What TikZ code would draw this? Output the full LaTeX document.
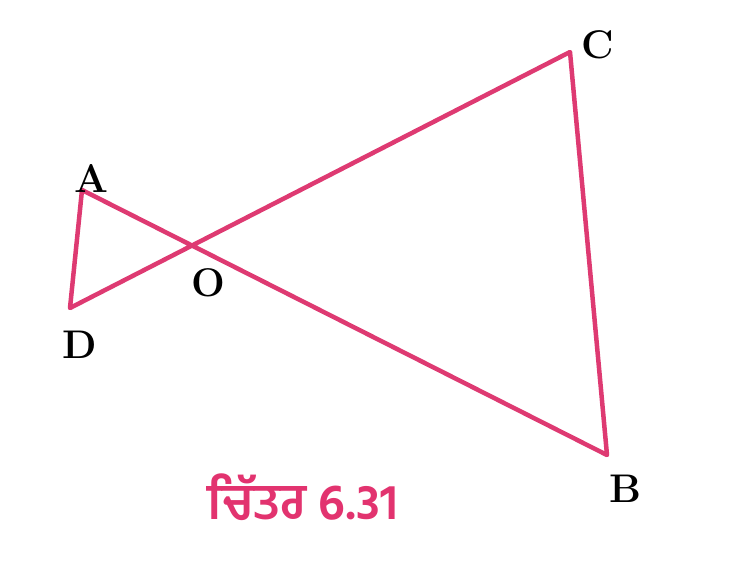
\documentclass[tikz,border=0pt]{standalone}
\usepackage{fontspec}
\newfontfamily\gurmukhi[Script=Gurmukhi]{Hind Jalandhar}
\usepackage{xcolor}
\definecolor{pinkline}{HTML}{DE3A72}
\definecolor{pinkcap}{HTML}{E2336F}

\begin{document}
\begin{tikzpicture}[
    x=1pt,y=-1pt,
    side/.style={line width=4.5pt,pinkline,line join=round,line cap=round},
    lbl/.style={font=\fontsize{40}{44}\selectfont\bfseries,inner sep=0pt},
    caption/.style={font=\gurmukhi\fontsize{50}{54}\selectfont\bfseries,text=pinkcap,inner sep=0pt}
]
\useasboundingbox (0,0) rectangle (736,582);
\coordinate (A) at (82,190);
\coordinate (D) at (70,308);
\coordinate (C) at (570,52);
\coordinate (B) at (607,455);
\coordinate (O) at (intersection of A--B and D--C);

\draw[side] (D) -- (A) -- (B) -- (C) -- cycle;

\node[lbl] (la) at (91,178) {A};
\node[lbl] (ld) at (80,345) {D};
\node[lbl] (lo) at (208,283) {O};
\node[lbl] (lc) at (598,45) {C};
\node[lbl] (lb) at (625,489) {B};

\node[caption] (cap) at (303,497) {ਚਿੱਤਰ 6.31};
\end{tikzpicture}
\end{document}
